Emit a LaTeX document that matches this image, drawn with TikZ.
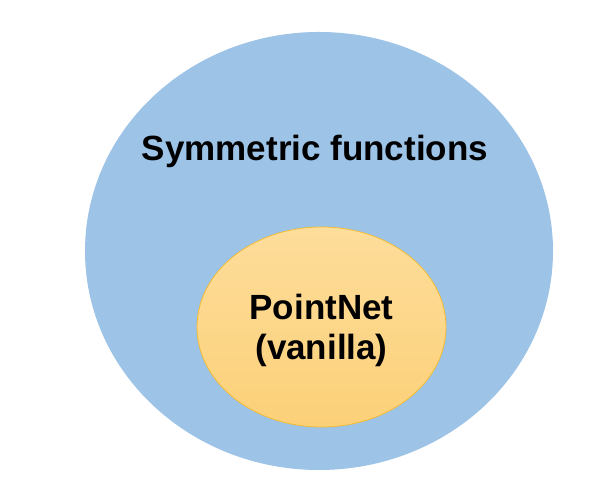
\documentclass[tikz,border=0pt]{standalone}
\usepackage{fontspec}
\setmainfont{Liberation Sans}
\usetikzlibrary{shapes.geometric}
\definecolor{setblue}{RGB}{157,195,230}
\definecolor{netlight}{RGB}{253,221,155}
\definecolor{netdark}{RGB}{252,208,120}
\definecolor{netedge}{RGB}{242,188,52}
\begin{document}
\begin{tikzpicture}[
  x=1pt,y=1pt,
  outerset/.style={ellipse,fill=setblue,draw=none,inner sep=0pt,
    minimum width=468pt,minimum height=438pt},
  innerset/.style={ellipse,top color=netlight,bottom color=netdark,
    draw=netedge,line width=0.8pt,inner sep=0pt,
    minimum width=249pt,minimum height=200pt},
  label/.style={align=center,font=\fontsize{35}{40}\selectfont\bfseries}
]
  \useasboundingbox (0,0) rectangle (615,502);
  \node[outerset] (sym) at (319,251) {};
  \node[innerset] (pnet) at (321.5,175) {};
  \node[label] (symtext) at (315,351) {Symmetric functions};
  \node[label] (pnettext) at (pnet.center) [yshift=-3pt] {PointNet\\(vanilla)};
\end{tikzpicture}
\end{document}
